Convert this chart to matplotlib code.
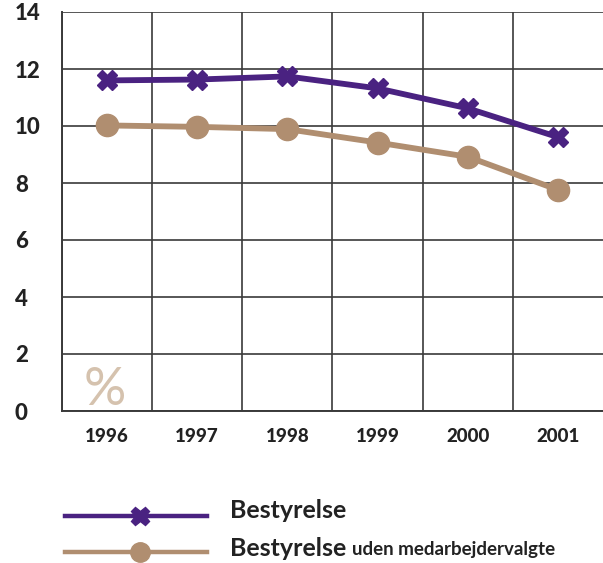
import matplotlib
matplotlib.use("Agg")
import matplotlib.pyplot as plt
from matplotlib.lines import Line2D
import numpy as np

years = ["1996", "1997", "1998", "1999", "2000", "2001"]
bestyrelse = [11.6, 11.63, 11.74, 11.32, 10.62, 9.61]
uden_medarb = [10.02, 9.97, 9.89, 9.42, 8.92, 7.76]
yticks = [0, 2, 4, 6, 8, 10, 12, 14]

PURPLE = "#4a2281"
BROWN = "#b08e70"
TAN = "#d5c2ae"
GRID = "#3a3a3a"
FONT = ["Lato", "DejaVu Sans"]

fig = plt.figure(figsize=(6.03, 5.63), dpi=100)
ax = fig.add_axes([62/603, 1-411/563, 1-62/603, (411-12)/563])

x = np.arange(len(years))
ax.plot(x, bestyrelse, color=PURPLE, lw=4.2, marker="X", ms=15, mec=PURPLE, mfc=PURPLE, zorder=4)
ax.plot(x, uden_medarb, color=BROWN, lw=4.2, marker="o", ms=16, mec=BROWN, mfc=BROWN, zorder=3)

ax.set_xlim(-0.5, len(years) - 0.5)
ax.set_ylim(0, 14)
ax.set_yticks(yticks)
ax.set_yticklabels([str(v) for v in yticks], fontsize=16, fontweight="black", family=FONT, color="#222222", ha="left")
ax.set_xticks(x)
ax.set_xticklabels(years, fontsize=13.5, fontweight="black", family=FONT, color="#222222")
ax.set_xticks(np.arange(-0.5, len(years) - 1, 1), minor=True)
ax.tick_params(axis="y", length=0, pad=34)
ax.tick_params(axis="x", which="both", length=0, pad=12)

ax.grid(True, axis="y", which="major", color=GRID, lw=1.2)
ax.grid(True, axis="x", which="minor", color=GRID, lw=1.2)
ax.grid(False, axis="x", which="major")
for s in ["top", "right"]:
    ax.spines[s].set_visible(False)
for s in ["left", "bottom"]:
    ax.spines[s].set_color(GRID)
    ax.spines[s].set_linewidth(1.4)
ax.set_axisbelow(True)

ax.text(-0.03, 0.72, "%", color=TAN, fontsize=38, fontweight="normal", family=FONT, ha="center", va="center")

# legend
l1 = Line2D([65/603, 207/603], [1-516/563]*2, transform=fig.transFigure, color=PURPLE, lw=3.2)
m1 = Line2D([140/603], [1-516/563], transform=fig.transFigure, color=PURPLE, marker="X", ms=13, lw=0)
l2 = Line2D([65/603, 207/603], [1-552/563]*2, transform=fig.transFigure, color=BROWN, lw=3.2)
m2 = Line2D([140/603], [1-552/563], transform=fig.transFigure, color=BROWN, marker="o", ms=14, lw=0)
for a in (l1, m1, l2, m2):
    fig.add_artist(a)

fig.text(230/603, 1-510/563, "Bestyrelse", fontsize=18, fontweight="bold", family=FONT, color="#222222", va="center")
t = fig.text(230/603, 1-548/563, "Bestyrelse", fontsize=18, fontweight="bold", family=FONT, color="#222222", va="center")
fig.canvas.draw()
bb = t.get_window_extent()
fig.text((bb.x1 + 6)/fig.bbox.width, 1-550/563, "uden medarbejdervalgte", fontsize=13.5, fontweight="bold", family=FONT, color="#222222", va="center")

fig.savefig("out.png", dpi=100)
